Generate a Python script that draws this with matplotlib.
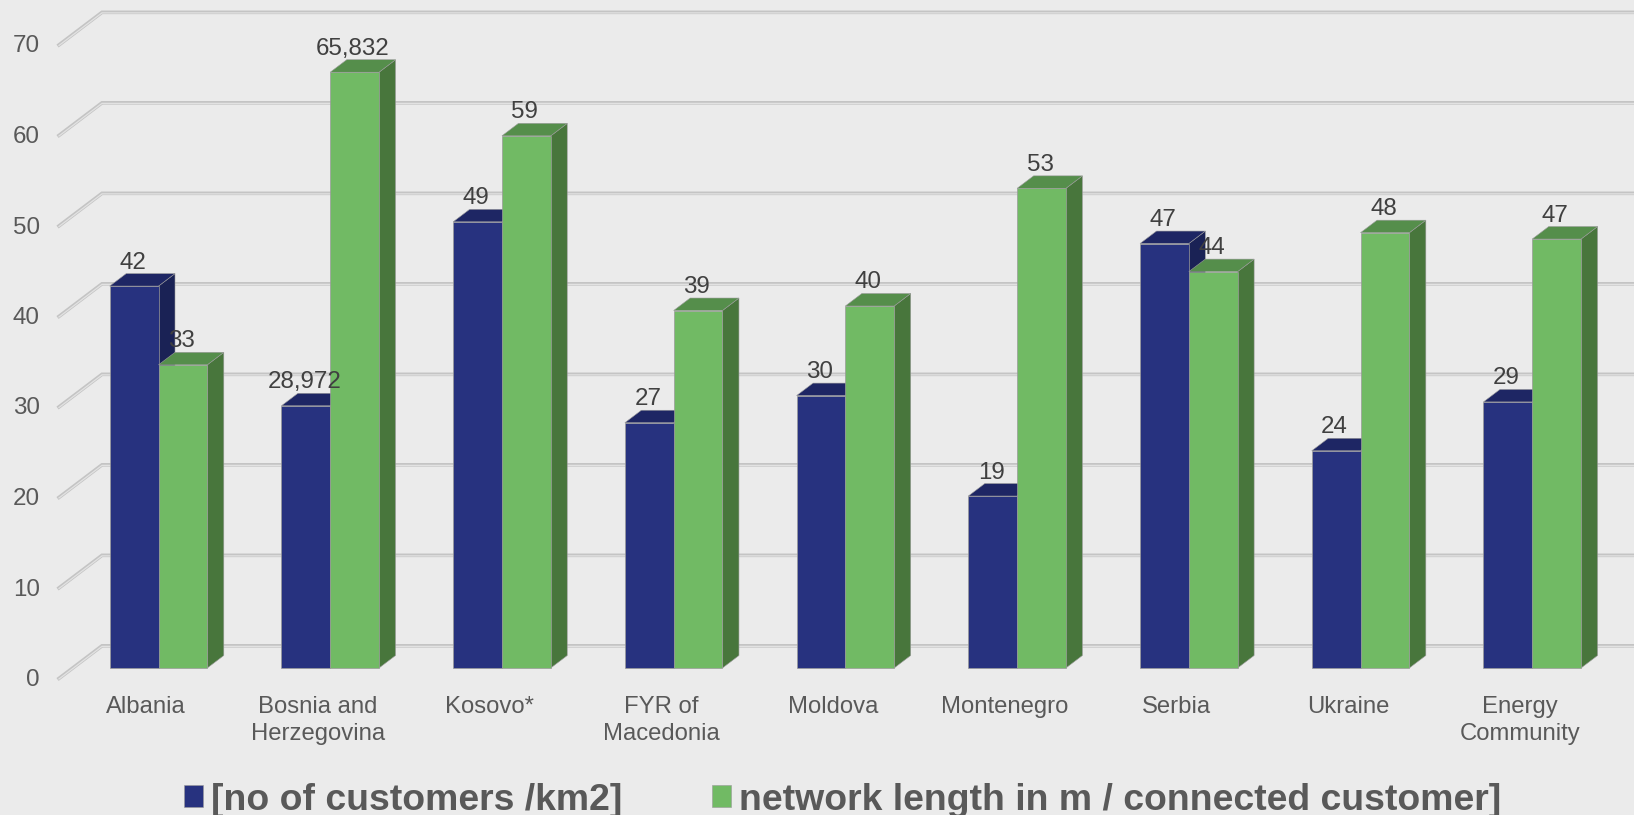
import matplotlib
matplotlib.use("Agg")
import matplotlib.pyplot as plt
from matplotlib.patches import Polygon, Patch
from matplotlib.transforms import ScaledTranslation

categories = ["Albania", "Bosnia and\nHerzegovina", "Kosovo*", "FYR of\nMacedonia", "Moldova",
              "Montenegro", "Serbia", "Ukraine", "Energy\nCommunity"]
customers = [42.2, 28.972, 49.3, 27.1, 30.1, 19.0, 46.9, 24.0, 29.4]
network = [33.5, 65.832, 58.8, 39.5, 40.0, 53.0, 43.8, 48.1, 47.4]
customers_labels = ["42", "28,972", "49", "27", "30", "19", "47", "24", "29"]
network_labels = ["33", "65,832", "59", "39", "40", "53", "44", "48", "47"]
series_names = ["[no of customers /km2]", "network length in m / connected customer]"]
y_ticks = [0, 10, 20, 30, 40, 50, 60, 70]

W, H = 1634, 815
PX_X = 171.72      # pixels per category
PX_Y = 9.05        # pixels per unit
X0 = 158.5         # pixel of category 0
Y0 = 668.0         # pixel of value 0
LEFT, BOTTOM = 59.0, 681.0

plt.rcParams["font.family"] = ["Liberation Sans", "DejaVu Sans"]
fig = plt.figure(figsize=(W / 100, H / 100), dpi=100, facecolor="#EBEBEB")
ax = fig.add_axes([LEFT / W, (H - BOTTOM) / H, (W - LEFT) / W, BOTTOM / H], facecolor="#EBEBEB")
ax.set_xlim((LEFT - X0) / PX_X, (W - X0) / PX_X)
ax.set_ylim((Y0 - BOTTOM) / PX_Y, Y0 / PX_Y)
for s in ax.spines.values():
    s.set_visible(False)

bw = 48.8 / PX_X
dx, dy = 16.5 / PX_X, 12.5 / PX_Y
gx = 43.0 / PX_X
g_front, g_back = -1.15, 2.45
xmin = ax.get_xlim()[0]
xmax = ax.get_xlim()[1]

for v in y_ticks:
    xs = [xmin, xmin + gx, xmax]
    ys = [v + g_front, v + g_back, v + g_back]
    ax.plot(xs, ys, color="#C4C4C4", lw=2.6, zorder=1, solid_joinstyle="miter", clip_on=False)
    ax.plot(xs, [y - 0.06 for y in ys], color="#E2E2E2", lw=0.9, zorder=1.1, solid_joinstyle="miter", clip_on=False)

edge = "#9A9A9A"


def bars(offset, values, front, top, side, z):
    xs = [i + offset for i in range(len(values))]
    for x, v in zip(xs, values):
        r = x + bw / 2
        l = x - bw / 2
        ax.add_patch(Polygon([(r, 0), (r + dx, dy), (r + dx, v + dy), (r, v)], closed=True,
                             fc=side, ec=edge, lw=0.4, zorder=z))
        ax.add_patch(Polygon([(l, v), (l + dx, v + dy), (r + dx, v + dy), (r, v)], closed=True,
                             fc=top, ec=edge, lw=0.4, zorder=z))
    ax.bar(xs, values, width=bw, color=front, edgecolor=edge, linewidth=0.5, zorder=z + 0.1)
    return xs


x1 = bars(-bw / 2, customers, "#27327F", "#1E2664", "#1A2255", 2)
x2 = bars(bw / 2, network, "#71BA64", "#558E4B", "#48763C", 3)

for xs, vals, labs in ((x1, customers, customers_labels), (x2, network, network_labels)):
    for x, v, t in zip(xs, vals, labs):
        ax.text(x - 1.5 / PX_X, v + dy + 11.0 / PX_Y, t, ha="center", va="center", fontsize=17.4,
                color="#404040", zorder=6)

ax.set_yticks(y_ticks)
ax.set_xticks(range(len(categories)))
ax.set_xticklabels(categories, linespacing=1.3)
ax.tick_params(axis="y", length=0, pad=14, labelsize=17.4, labelcolor="#595959")
ax.tick_params(axis="x", length=0, pad=11, labelsize=17.2, labelcolor="#595959")
dpi_trans = fig.dpi_scale_trans
for lab in ax.get_yticklabels():
    lab.set_transform(lab.get_transform() + ScaledTranslation(0, -9.5 / 100, dpi_trans))
for lab in ax.get_xticklabels():
    lab.set_transform(lab.get_transform() + ScaledTranslation(-12.5 / 100, 0, dpi_trans))

handles = [Patch(fc="#27327F", ec="#9A9A9A", lw=0.4), Patch(fc="#71BA64", ec="#9A9A9A", lw=0.4)]
fig.legend(handles, series_names, loc="center", bbox_to_anchor=(842.5 / W, 1 - 800 / H), ncol=2, frameon=False,
           prop={"size": 26.9, "weight": "bold"}, labelcolor="#595959",
           handlelength=0.51, handleheight=0.51, handletextpad=0.22, columnspacing=2.4,
           borderpad=0, borderaxespad=0)

fig.savefig("out.png", dpi=100, facecolor=fig.get_facecolor())
